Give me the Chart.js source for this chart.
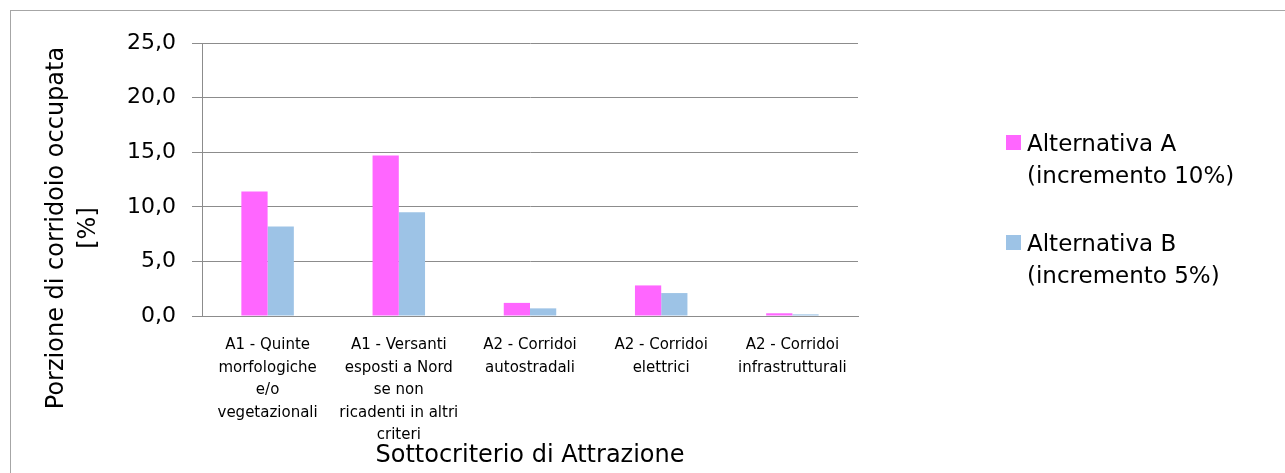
<!DOCTYPE html>
<html>
<head>
<meta charset="utf-8">
<script src="https://cdn.jsdelivr.net/npm/chart.js@4/dist/chart.umd.min.js"></script>
<style>
  html, body { margin: 0; padding: 0; background: #fff; }
  #wrap { position: relative; width: 1285px; height: 473px; overflow: hidden; }
  #frame { position: absolute; left: 10px; top: 10px; width: 1400px; height: 600px; border: 1px solid #a6a6a6; }
  #chart { position: absolute; left: 0; top: 0; }
  #legend { position: absolute; left: 1006px; top: 127px; font-family: "DejaVu Sans", sans-serif; font-size: 23px; line-height: 32px; color: #000; }
  .item { position: relative; padding-left: 21px; margin-bottom: 36px; }
  .box { position: absolute; left: 0; top: 8px; width: 15px; height: 15px; }
</style>
</head>
<body>
<div id="wrap">
  <div id="frame"></div>
  <canvas id="chart" width="1285" height="473"></canvas>
  <div id="legend"></div>
</div>
<script>
const categories = [
  ['A1 - Quinte', 'morfologiche', 'e/o', 'vegetazionali'],
  ['A1 - Versanti', 'esposti a Nord', 'se non', 'ricadenti in altri', 'criteri'],
  ['A2 - Corridoi', 'autostradali'],
  ['A2 - Corridoi', 'elettrici'],
  ['A2 - Corridoi', 'infrastrutturali']
];
const seriesNames = [
  ['Alternativa A', '(incremento 10%)'],
  ['Alternativa B', '(incremento 5%)']
];
const alternativaA = [11.4, 14.7, 1.2, 2.8, 0.25];
const alternativaB = [8.2, 9.5, 0.7, 2.1, 0.15];
const yTicks = [0, 5, 10, 15, 20, 25];
const yTickLabels = ['0,0', '5,0', '10,0', '15,0', '20,0', '25,0'];
const yTitle = ['Porzione di corridoio occupata', '[%]'];
const xTitle = 'Sottocriterio di Attrazione';
const colors = ['#ff66ff', '#9dc3e6'];

const gridGray = '#8c8c8c';
const fontFamily = '"DejaVu Sans", sans-serif';

// y title is centred on the whole chart height (as excel does), not on the plot area
const yTitlePlugin = {
  id: 'yTitle',
  afterDraw(chart) {
    const c = chart.ctx;
    c.save();
    c.font = '24px ' + fontFamily;
    c.fillStyle = '#000';
    c.textAlign = 'center';
    c.textBaseline = 'middle';
    c.translate(57, 228);
    c.rotate(-Math.PI / 2);
    yTitle.forEach((line, i) => c.fillText(line, 0, i * 32));
    c.restore();
  }
};

const ctx = document.getElementById('chart').getContext('2d');
const chart = new Chart(ctx, {
  type: 'bar',
  data: {
    labels: categories,
    datasets: [
      { label: seriesNames[0], data: alternativaA, backgroundColor: colors[0] },
      { label: seriesNames[1], data: alternativaB, backgroundColor: colors[1] }
    ]
  },
  plugins: [yTitlePlugin],
  options: {
    responsive: false,
    animation: false,
    layout: { padding: { left: 34, right: 427, top: 43, bottom: 0 } },
    datasets: { bar: { barPercentage: 1.0, categoryPercentage: 0.4, borderWidth: 0 } },
    plugins: {
      legend: { display: false },
      tooltip: { enabled: false }
    },
    scales: {
      x: {
        grid: { display: false, drawTicks: false },
        border: { display: true, color: gridGray, width: 1 },
        ticks: {
          color: '#000',
          padding: 18,
          maxRotation: 0,
          autoSkip: false,
          font: { family: fontFamily, size: 15, lineHeight: 1.5 }
        },
        title: {
          display: true,
          text: xTitle,
          color: '#000',
          padding: { top: 4, bottom: 1 },
          font: { family: fontFamily, size: 24, lineHeight: 32 / 24 }
        },
        afterFit: (scale) => { scale.height = 157; }
      },
      y: {
        min: 0,
        max: 25,
        afterBuildTicks: (scale) => { scale.ticks = yTicks.map(v => ({ value: v })); },
        grid: { color: gridGray, lineWidth: 1, tickLength: 10, drawTicks: true },
        border: { display: true, color: gridGray, width: 1 },
        ticks: {
          color: '#000',
          padding: 16,
          font: { family: fontFamily, size: 22 },
          callback: (value) => yTickLabels[yTicks.indexOf(value)]
        },
        afterFit: (scale) => { scale.width = 202 - 34; }
      }
    }
  }
});

// legend as html text, built from the chart's datasets
const legend = document.getElementById('legend');
chart.data.datasets.forEach(ds => {
  const item = document.createElement('div');
  item.className = 'item';
  const box = document.createElement('span');
  box.className = 'box';
  box.style.background = ds.backgroundColor;
  item.appendChild(box);
  ds.label.forEach(line => {
    const row = document.createElement('div');
    row.textContent = line;
    item.appendChild(row);
  });
  legend.appendChild(item);
});
</script>
</body>
</html>
